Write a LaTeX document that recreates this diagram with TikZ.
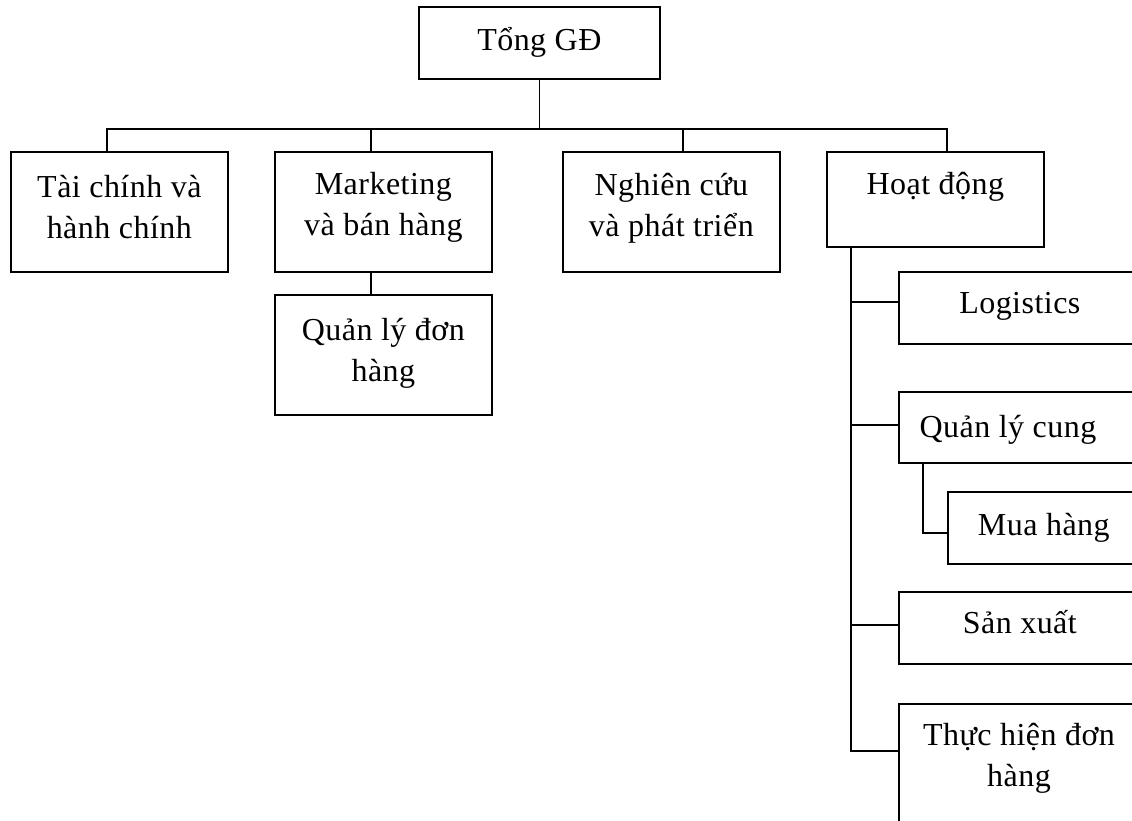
\documentclass[tikz,border=0pt]{standalone}
\usepackage{fontspec}
\setmainfont{Liberation Serif}[LetterSpace=1.5]
\usetikzlibrary{calc}

% two centred lines whose baseline is that of the first line
\newcommand\twolines[2]{\begin{tabular}[t]{@{}c@{}}#1\\#2\end{tabular}}

\begin{document}
\begin{tikzpicture}[x=1pt, y=-1pt,
  box/.style={draw, line width=1.7pt, inner sep=0pt, anchor=north west},
  lbl/.style={anchor=base, inner sep=0pt, font=\fontsize{32}{41}\selectfont},
  link/.style={draw, line width=1.7pt}]
\useasboundingbox (0,0) rectangle (1132,821);
\clip (0,0) rectangle (1132,821);

% boxes
\node[box, minimum width=241pt, minimum height=72pt]  (tgd)  at (418,6)   {};
\node[box, minimum width=217pt, minimum height=120pt] (tc)   at (10,151)  {};
\node[box, minimum width=217pt, minimum height=120pt] (mk)   at (274,151) {};
\node[box, minimum width=217pt, minimum height=120pt] (nc)   at (562,151) {};
\node[box, minimum width=217pt, minimum height=95pt]  (hd)   at (826,151) {};
\node[box, minimum width=217pt, minimum height=120pt] (qldh) at (274,294) {};
\node[box, minimum width=242pt, minimum height=72pt]  (lg)   at (898,271) {};
\node[box, minimum width=242pt, minimum height=71pt]  (qlc)  at (898,391) {};
\node[box, minimum width=192pt, minimum height=72pt]  (mh)   at (947,491) {};
\node[box, minimum width=242pt, minimum height=72pt]  (sx)   at (898,591) {};
\node[box, minimum width=242pt, minimum height=140pt] (th)   at (898,703) {};

% labels
\node[lbl] (tgdt)  at ($(tgd.north)+(0,45)$)  {Tổng GĐ};
\node[lbl] (tct)   at ($(tc.north)+(0,46)$)   {\twolines{Tài chính và}{hành chính}};
\node[lbl] (mkt)   at ($(mk.north)+(0,44)$)   {\twolines{Marketing}{và bán hàng}};
\node[lbl] (nct)   at ($(nc.north)+(0,45)$)   {\twolines{Nghiên cứu}{và phát triển}};
\node[lbl] (hdt)   at ($(hd.north)+(0,44)$)   {Hoạt động};
\node[lbl] (qldht) at ($(qldh.north)+(0,46)$) {\twolines{Quản lý đơn}{hàng}};
\node[lbl] (lgt)   at ($(lg.north)+(0,42)$)   {Logistics};
\node[lbl] (qlct)  at ($(qlc.north west)+(110,46)$) {Quản lý cung};
\node[lbl] (mht)   at ($(mh.north)+(0,44)$)   {Mua hàng};
\node[lbl] (sxt)   at ($(sx.north)+(0,42)$)   {Sản xuất};
\node[lbl] (tht)   at ($(th.north west)+(121,42)$) {\twolines{Thực hiện đơn}{hàng}};

% entry points of the connectors
\coordinate (tcin) at ($(tc.north west)+(97,0)$);
\coordinate (mkin) at ($(mk.north west)+(97,0)$);
\coordinate (ncin) at ($(nc.north west)+(121,0)$);
\coordinate (hdin) at ($(hd.north west)+(121,0)$);
\coordinate (hub)  at ($(tgd.south)+(0,49)$);

% top level tree
\draw[link] (tgd.south) -- (hub);
\draw[link] (tcin) |- (hub) -| (hdin);
\draw[link] (mkin) -- (mkin |- hub);
\draw[link] (ncin) -- (ncin |- hub);
\draw[link] (mk.south -| mkin) -- (qldh.north -| mkin);

% operations branch
\coordinate (spine) at ($(hd.south west)+(25,0)$);
\coordinate (lgc)  at ($(lg.north west)+(0,31)$);
\coordinate (qlcc) at ($(qlc.north west)+(0,34)$);
\coordinate (sxc)  at ($(sx.north west)+(0,34)$);
\coordinate (thc)  at ($(th.north west)+(0,48)$);
\coordinate (mhc)  at ($(mh.north west)+(0,42)$);
\draw[link] (spine) |- (thc);
\draw[link] (spine |- lgc) -- (lgc);
\draw[link] (spine |- qlcc) -- (qlcc);
\draw[link] (spine |- sxc) -- (sxc);
\draw[link] ($(qlc.south west)+(25,0)$) |- (mhc);
\end{tikzpicture}
\end{document}
